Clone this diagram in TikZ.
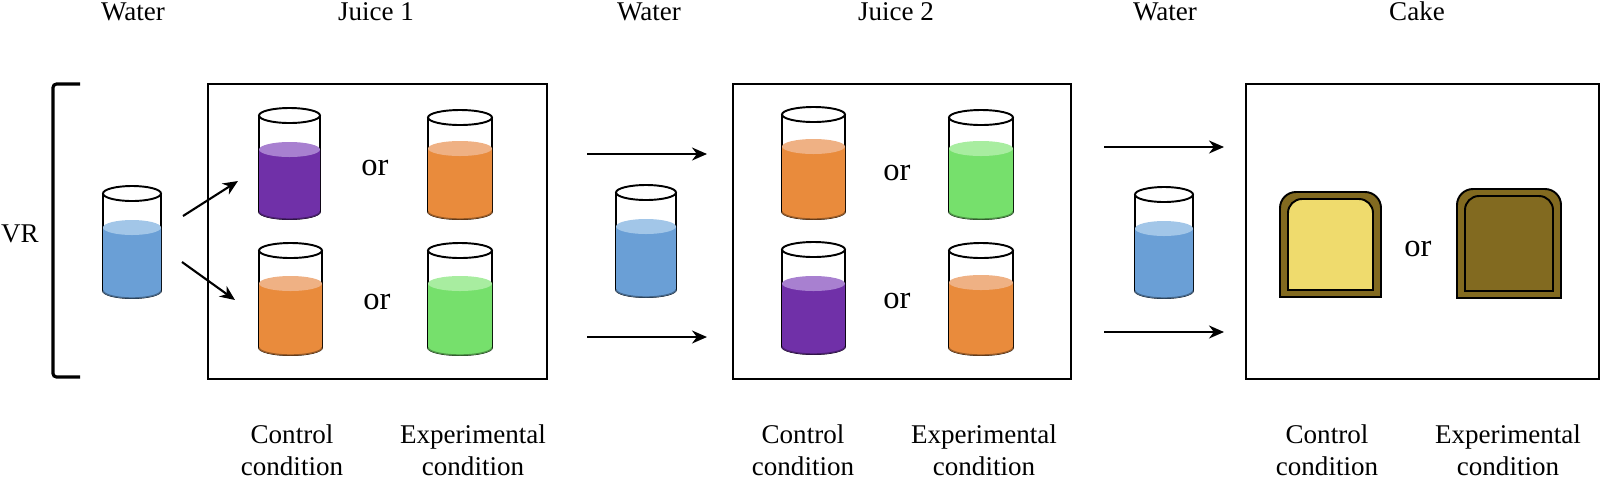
\documentclass[tikz,border=0pt]{standalone}
\usepackage{fontspec}
\setmainfont{Liberation Serif}
\usetikzlibrary{arrows.meta, positioning, calc}
\definecolor{waterblue}{HTML}{6A9FD6}
\definecolor{watertop}{HTML}{A2C6E8}
\definecolor{grapepurple}{HTML}{7030A8}
\definecolor{grapetop}{HTML}{A880D0}
\definecolor{juiceorange}{HTML}{E98B3C}
\definecolor{orangetop}{HTML}{EFB184}
\definecolor{juicegreen}{HTML}{76E06C}
\definecolor{greentop}{HTML}{A8EDA0}
\definecolor{crust}{HTML}{826A20}
\definecolor{sponge}{HTML}{EFDB6D}
% name, left, right, top, surface, bottom, liquid, surface colour
\newcommand{\drink}[8]{
  \pgfmathsetmacro{\rimx}{(#3-#2)/2}
  \pgfmathsetmacro{\midx}{(#3+#2)/2}
  \pgfmathsetmacro{\midy}{(#4+#6)/2}
  \pgfmathsetmacro{\tall}{(#6-#4)}
  \pgfmathsetmacro{\wide}{(#3-#2)}
  \node[cupbox, minimum width=\wide*0.02cm, minimum height=\tall*0.02cm] (#1) at (\midx,\midy) {};
  \draw[cupline] (#2,#4+7.5) -- (#2,#6-7.5) arc[start angle=180, end angle=0, x radius=\rimx, y radius=7.5]
    -- (#3,#4+7.5);
  \fill[#7] (#2,#5+7.5) -- (#2,#6-7.5) arc[start angle=180, end angle=0, x radius=\rimx, y radius=7.5]
    -- (#3,#5+7.5) -- cycle;
  \draw[#7!65!black, line width=0.8pt] (#2,#6-7.5) arc[start angle=180, end angle=0, x radius=\rimx, y radius=7.5];
  \fill[#8] (\midx,#5+7.5) ellipse[x radius=\rimx, y radius=7.5];
  \draw[cupline] (\midx,#4+7.5) ellipse[x radius=\rimx, y radius=7.5];
}
% name, left, right, top, bottom, filling
\newcommand{\cake}[6]{
  \pgfmathsetmacro{\midx}{(#3+#2)/2}
  \pgfmathsetmacro{\midy}{(#4+#5)/2}
  \pgfmathsetmacro{\tall}{(#5-#4)}
  \pgfmathsetmacro{\wide}{(#3-#2)}
  \node[cupbox, minimum width=\wide*0.02cm, minimum height=\tall*0.02cm] (#1) at (\midx,\midy) {};
  \draw[cupline, fill=crust] (#2,#5) -- (#2,#4+16) arc[start angle=180, end angle=270, radius=16]
    -- (#3-16,#4) arc[start angle=270, end angle=360, radius=16] -- (#3,#5) -- cycle;
  \draw[cupline, fill=#6] (#2+8,#5-7) -- (#2+8,#4+21) arc[start angle=180, end angle=270, radius=14]
    -- (#3-22,#4+7) arc[start angle=270, end angle=360, radius=14] -- (#3-8,#5-7) -- cycle;
}

\begin{document}
\begin{tikzpicture}[
    x=0.02cm, y=-0.02cm,
    label/.style={font=\fontsize{15.4}{18}\selectfont, align=center, inner sep=0pt},
    title/.style={label, anchor=base},
    orword/.style={font=\fontsize{18.5}{20}\selectfont, inner sep=0pt},
    frame/.style={rectangle, draw=black, line width=0.9pt, inner sep=0pt},
    cupbox/.style={rectangle, inner sep=0pt},
    cupline/.style={draw=black, line width=1.1pt},
    arrow/.style={-{Stealth[length=3mm, width=2.6mm]}, line width=1.2pt},
  ]
  \useasboundingbox (0,0) rectangle (1600,478);

  % Titles
  \node[title] (titleA) at (133,20) {Water};
  \node[title] (titleB) at (376,20) {Juice 1};
  \node[title] (titleC) at (649,20) {Water};
  \node[title] (titleD) at (896,20) {Juice 2};
  \node[title] (titleE) at (1165,20) {Water};
  \node[title] (titleF) at (1417,20) {Cake};
  \node[label] (vr) at (20,234) {VR};

  % Bracket
  \coordinate (brackettop) at (80,84);
  \coordinate (bracketlow) at (80,377);
  \draw[line width=1.8pt, rounded corners=2pt] (brackettop) -| (53,377) -- (bracketlow);

  % Frames
  \node[frame, minimum width=339*0.02cm, minimum height=295*0.02cm] (boxA) at (377.5,231.5) {};
  \node[frame, minimum width=338*0.02cm, minimum height=295*0.02cm] (boxB) at (902,231.5) {};
  \node[frame, minimum width=353*0.02cm, minimum height=295*0.02cm] (boxC) at (1422.5,231.5) {};

  % Water
  \drink{waterA}{103}{161}{186}{220}{298}{waterblue}{watertop}
  \drink{waterB}{616}{676}{185}{219}{297}{waterblue}{watertop}
  \drink{waterC}{1135}{1193}{187}{221}{298}{waterblue}{watertop}

  % Juice 1
  \drink{cupA}{259}{320}{108}{142}{219}{grapepurple}{grapetop}
  \drink{cupB}{259}{322}{243}{276}{355}{juiceorange}{orangetop}
  \drink{cupC}{428}{492}{110}{141}{219}{juiceorange}{orangetop}
  \drink{cupD}{428}{492}{243}{276}{355}{juicegreen}{greentop}
  \node[orword] (orA) at (375,168) {or};
  \node[orword] (orB) at (377,302) {or};

  % Juice 2
  \drink{cupE}{782}{845}{107}{139}{219}{juiceorange}{orangetop}
  \drink{cupF}{949}{1013}{110}{141}{219}{juicegreen}{greentop}
  \drink{cupG}{782}{845}{242}{276}{354}{grapepurple}{grapetop}
  \drink{cupH}{949}{1013}{243}{275}{355}{juiceorange}{orangetop}
  \node[orword] (orC) at (897,173) {or};
  \node[orword] (orD) at (897,301) {or};

  % Cake
  \cake{cakeA}{1280}{1381}{192}{297}{sponge}
  \cake{cakeB}{1457}{1561}{189}{298}{crust}
  \node[orword] (orE) at (1418,249) {or};

  % Conditions
  \node[label] (condA) at (292,450) {Control\\condition};
  \node[label] (condB) at (473,450) {Experimental\\condition};
  \node[label] (condC) at (803,450) {Control\\condition};
  \node[label] (condD) at (984,450) {Experimental\\condition};
  \node[label] (condE) at (1327,450) {Control\\condition};
  \node[label] (condF) at (1508,450) {Experimental\\condition};

  % Arrows
  \coordinate (upfrom) at (183,216);
  \coordinate (upto) at (238,181);
  \coordinate (downfrom) at (182,262);
  \coordinate (downto) at (235,300);
  \coordinate (passA) at (587,154);
  \coordinate (passAend) at (707,154);
  \coordinate (passB) at (587,337);
  \coordinate (passBend) at (707,337);
  \coordinate (passC) at (1104,147);
  \coordinate (passCend) at (1224,147);
  \coordinate (passD) at (1104,332);
  \coordinate (passDend) at (1224,332);
  \draw[arrow] (upfrom) -- (upto);
  \draw[arrow] (downfrom) -- (downto);
  \draw[arrow] (passA) -- (passAend);
  \draw[arrow] (passB) -- (passBend);
  \draw[arrow] (passC) -- (passCend);
  \draw[arrow] (passD) -- (passDend);
\end{tikzpicture}
\end{document}
